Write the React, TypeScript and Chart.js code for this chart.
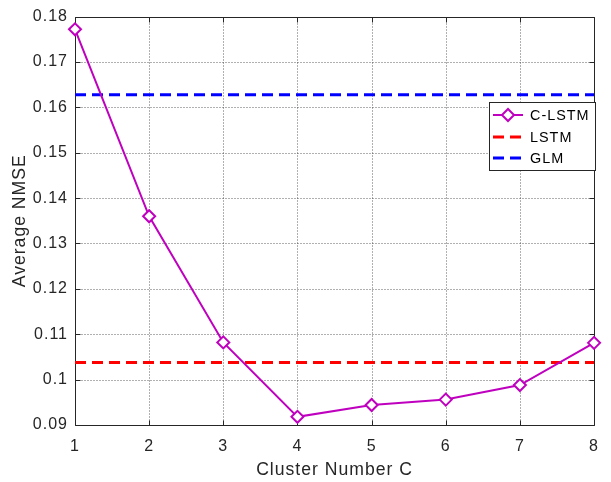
import React, { useEffect, useRef } from 'react';
import { Chart, registerables } from 'chart.js';

Chart.register(...registerables);

// ---- data ----
const clusters = [1, 2, 3, 4, 5, 6, 7, 8];
const clstmNmse = [0.1772, 0.136, 0.1082, 0.0918, 0.0944, 0.0956, 0.0988, 0.1081];
const lstmNmse = 0.1038;
const glmNmse = 0.1628;
const xTickLabels = ['1', '2', '3', '4', '5', '6', '7', '8'];
const yTickLabels = ['0.09', '0.1', '0.11', '0.12', '0.13', '0.14', '0.15', '0.16', '0.17', '0.18'];
const seriesLabels = ['C-LSTM', 'LSTM', 'GLM'];
const xTitle = 'Cluster Number C';
const yTitle = 'Average NMSE';

const FONT = '"Liberation Sans", Arial, Helvetica, sans-serif';
const TEXT = '#262626';
const AXIS = '#262626';

const spacingPlugin = {
  id: 'spacing',
  beforeUpdate(chart: any) { chart.ctx.letterSpacing = '1px'; },
  beforeLayout(chart: any) { chart.ctx.letterSpacing = '1px'; },
  beforeDraw(chart: any) { chart.ctx.letterSpacing = '1px'; },
};

const gridFramePlugin = {
  id: 'gridFrame',
  beforeDatasetsDraw(chart: any) {
    const { ctx, chartArea, scales } = chart;
    const { left, right, top, bottom } = chartArea;
    const L = Math.round(left) + 0.5;
    const R = Math.round(right) + 0.5;
    const T = Math.round(top) + 0.5;
    const B = Math.round(bottom) + 0.5;
    ctx.save();
    ctx.lineWidth = 1;
    ctx.strokeStyle = 'rgba(30,30,30,0.7)';
    ctx.setLineDash([1, 2]);
    scales.x.ticks.forEach((t: any) => {
      const px = Math.round(scales.x.getPixelForValue(t.value)) + 0.5;
      ctx.beginPath();
      ctx.moveTo(px, T);
      ctx.lineTo(px, B);
      ctx.stroke();
    });
    scales.y.ticks.forEach((t: any) => {
      const py = Math.round(scales.y.getPixelForValue(t.value)) + 0.5;
      ctx.beginPath();
      ctx.moveTo(L, py);
      ctx.lineTo(R, py);
      ctx.stroke();
    });
    ctx.setLineDash([]);
    ctx.strokeStyle = AXIS;
    ctx.beginPath();
    ctx.moveTo(L, T); ctx.lineTo(R, T); ctx.lineTo(R, B); ctx.lineTo(L, B); ctx.closePath();
    ctx.stroke();
    const tl = 5;
    scales.x.ticks.forEach((t: any) => {
      const px = Math.round(scales.x.getPixelForValue(t.value)) + 0.5;
      ctx.beginPath();
      ctx.moveTo(px, B); ctx.lineTo(px, B - tl);
      ctx.moveTo(px, T); ctx.lineTo(px, T + tl);
      ctx.stroke();
    });
    scales.y.ticks.forEach((t: any) => {
      const py = Math.round(scales.y.getPixelForValue(t.value)) + 0.5;
      ctx.beginPath();
      ctx.moveTo(L, py); ctx.lineTo(L + tl, py);
      ctx.moveTo(R, py); ctx.lineTo(R - tl, py);
      ctx.stroke();
    });
    ctx.restore();
  },
};

const legendPlugin = {
  id: 'matLegend',
  afterDraw(chart: any) {
    const { ctx } = chart;
    const bx = 489.5, by = 102.5, bw = 106, bh = 68;
    ctx.save();
    ctx.letterSpacing = '1px';
    ctx.fillStyle = '#ffffff';
    ctx.fillRect(bx, by, bw, bh);
    ctx.strokeStyle = AXIS;
    ctx.lineWidth = 1;
    ctx.setLineDash([]);
    ctx.strokeRect(bx, by, bw, bh);
    const rows = [115, 137, 158];
    chart.data.datasets.forEach((ds: any, i: number) => {
      const y = rows[i];
      const x0 = 493, x1 = 523;
      ctx.strokeStyle = ds.borderColor;
      ctx.lineWidth = ds.borderWidth;
      ctx.setLineDash(ds.borderDash || []);
      ctx.beginPath();
      ctx.moveTo(x0, y);
      ctx.lineTo(x1, y);
      ctx.stroke();
      ctx.setLineDash([]);
      if (ds.pointRadius > 0) {
        const cx = (x0 + x1) / 2, r = ds.pointRadius;
        ctx.fillStyle = ds.pointBackgroundColor;
        ctx.lineWidth = ds.pointBorderWidth;
        ctx.strokeStyle = ds.pointBorderColor;
        ctx.beginPath();
        ctx.moveTo(cx - r, y); ctx.lineTo(cx, y - r); ctx.lineTo(cx + r, y); ctx.lineTo(cx, y + r);
        ctx.closePath();
        ctx.fill();
        ctx.stroke();
      }
      ctx.fillStyle = '#000000';
      ctx.font = `14.4px ${FONT}`;
      ctx.textBaseline = 'middle';
      ctx.textAlign = 'left';
      ctx.fillText(ds.label, 530, y + 1);
    });
    ctx.restore();
  },
};

export default function App() {
  const ref = useRef<HTMLCanvasElement | null>(null);
  useEffect(() => {
    document.body.style.margin = '0';
    const canvas = ref.current!;
    const chart = new Chart(canvas, {
      type: 'line',
      data: {
        datasets: [
          {
            label: seriesLabels[0],
            data: clusters.map((c, i) => ({ x: c, y: clstmNmse[i] })),
            borderColor: '#bf00bf',
            borderWidth: 2,
            pointStyle: 'rectRot',
            pointRadius: 6,
            pointBorderWidth: 2,
            pointBorderColor: '#bf00bf',
            pointBackgroundColor: '#ffffff',
            tension: 0,
            clip: false,
            order: 0,
          },
          {
            label: seriesLabels[1],
            data: [{ x: clusters[0], y: lstmNmse }, { x: clusters[clusters.length - 1], y: lstmNmse }],
            borderColor: '#ff0000',
            borderWidth: 3,
            borderDash: [11, 6],
            pointRadius: 0,
            clip: false,
            order: 1,
          },
          {
            label: seriesLabels[2],
            data: [{ x: clusters[0], y: glmNmse }, { x: clusters[clusters.length - 1], y: glmNmse }],
            borderColor: '#0000ff',
            borderWidth: 3,
            borderDash: [11, 6],
            pointRadius: 0,
            clip: false,
            order: 2,
          },
        ],
      },
      options: {
        animation: false,
        responsive: false,
        devicePixelRatio: 1,
        layout: { padding: { top: 11, right: 6, left: 0, bottom: 0 } },
        plugins: { legend: { display: false }, tooltip: { enabled: false } },
        scales: {
          x: {
            type: 'linear',
            min: 1,
            max: 8,
            grid: { display: false, drawTicks: false },
            border: { display: false },
            ticks: {
              stepSize: 1,
              padding: 12,
              color: TEXT,
              font: { family: FONT, size: 16 },
              callback: (v: any) => xTickLabels[clusters.indexOf(Number(v))] ?? '',
            },
            title: {
              display: true,
              text: xTitle,
              color: TEXT,
              font: { family: FONT, size: 17.6 },
              padding: { top: 0, bottom: 1.5 },
            },
            afterFit: (s: any) => { s.height = 57; },
          },
          y: {
            type: 'linear',
            min: 0.09,
            max: 0.18,
            grid: { display: false, drawTicks: false },
            border: { display: false },
            ticks: {
              stepSize: 0.01,
              padding: 7,
              color: TEXT,
              font: { family: FONT, size: 16 },
              callback: (v: any, i: number) => yTickLabels[i] ?? '',
            },
            title: {
              display: true,
              text: yTitle,
              color: TEXT,
              font: { family: FONT, size: 17.6 },
              padding: { top: 10, bottom: 0 },
            },
            afterFit: (s: any) => { s.width = 75; },
          },
        },
      },
      plugins: [spacingPlugin, gridFramePlugin, legendPlugin],
    } as any);
    return () => chart.destroy();
  }, []);
  return <canvas ref={ref} width={611} height={482} style={{ display: 'block', width: 611, height: 482 }} />;
}
